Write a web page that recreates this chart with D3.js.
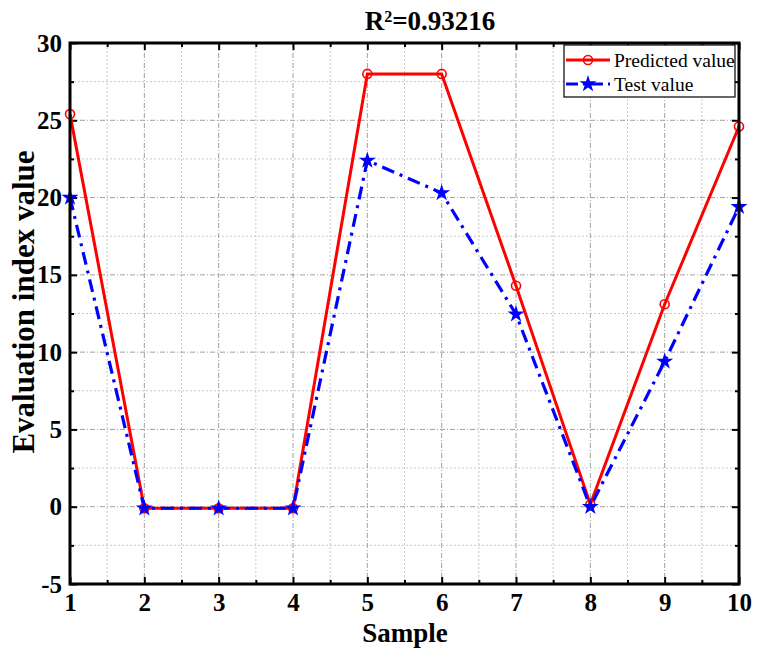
<!DOCTYPE html>
<html><head><meta charset="utf-8">
<script src="https://cdn.jsdelivr.net/npm/d3@7"></script>
<style>body{margin:0;background:#fff}svg{display:block}</style>
</head><body>
<svg id="c" width="757" height="660"></svg>
<script>
const samples = [1,2,3,4,5,6,7,8,9,10];
const predicted = [25.4,-0.1,-0.1,-0.1,28.0,28.0,14.3,0.15,13.1,24.6];
const testVal = [20.0,-0.1,-0.1,-0.1,22.4,20.3,12.45,0.0,9.4,19.4];
const xTicks = [1,2,3,4,5,6,7,8,9,10];
const yTicks = [-5,0,5,10,15,20,25,30];

const svg = d3.select("#c");
const L=70,R=739,T=43,B=584;
const x = d3.scaleLinear().domain([1,10]).range([L,R]);
const y = d3.scaleLinear().domain([-5,30]).range([B,T]);
const font = "'Liberation Serif','Times New Roman',serif";

const minorX = d3.range(1.5,10,1);
const minorY = d3.range(-2.5,30,5);
const g = svg.append("g");
g.selectAll(".mgx").data(minorX).join("line").attr("x1",d=>x(d)).attr("x2",d=>x(d)).attr("y1",T).attr("y2",B)
 .attr("stroke","#c8c8c8").attr("stroke-width",1).attr("stroke-dasharray","2,2");
g.selectAll(".mgy").data(minorY).join("line").attr("y1",d=>y(d)).attr("y2",d=>y(d)).attr("x1",L).attr("x2",R)
 .attr("stroke","#c8c8c8").attr("stroke-width",1).attr("stroke-dasharray","2,2");
g.selectAll(".Mgx").data(xTicks.slice(1,-1)).join("line").attr("x1",d=>x(d)).attr("x2",d=>x(d)).attr("y1",T).attr("y2",B)
 .attr("stroke","#a0a0a0").attr("stroke-width",1).attr("stroke-dasharray","5,2,1,2");
g.selectAll(".Mgy").data(yTicks.slice(1,-1)).join("line").attr("y1",d=>y(d)).attr("y2",d=>y(d)).attr("x1",L).attr("x2",R)
 .attr("stroke","#a0a0a0").attr("stroke-width",1).attr("stroke-dasharray","5,2,1,2");

function styleAxis(sel){
  sel.attr("font-family",null).attr("font-size",null);
  sel.select(".domain").remove();
  sel.selectAll(".tick line").attr("stroke","#000").attr("stroke-width",2);
  sel.selectAll("text").style("font-family",font).style("font-weight","bold").style("font-size","25px").attr("fill","#000");
}
const fmt = d=>String(d);
const xAxis = svg.append("g").attr("transform",`translate(0,${B})`)
  .call(d3.axisBottom(x).tickValues(xTicks).tickFormat(fmt).tickSizeInner(-7).tickPadding(9));
styleAxis(xAxis); xAxis.selectAll("text").attr("dy","0.71em");
const xMin = svg.append("g").attr("transform",`translate(0,${B})`).call(d3.axisBottom(x).tickValues(minorX).tickFormat("").tickSizeInner(-4));
styleAxis(xMin);
const yAxis = svg.append("g").attr("transform",`translate(${L},0)`)
  .call(d3.axisLeft(y).tickValues(yTicks).tickFormat(fmt).tickSizeInner(-7).tickPadding(8));
styleAxis(yAxis);
const yMin = svg.append("g").attr("transform",`translate(${L},0)`).call(d3.axisLeft(y).tickValues(minorY).tickFormat("").tickSizeInner(-4));
styleAxis(yMin);
const xTop = svg.append("g").attr("transform",`translate(0,${T})`).call(d3.axisTop(x).tickValues(xTicks).tickFormat("").tickSizeInner(-7));
styleAxis(xTop);
const xTopMin = svg.append("g").attr("transform",`translate(0,${T})`).call(d3.axisTop(x).tickValues(minorX).tickFormat("").tickSizeInner(-4));
styleAxis(xTopMin);
const yRight = svg.append("g").attr("transform",`translate(${R},0)`).call(d3.axisRight(y).tickValues(yTicks).tickFormat("").tickSizeInner(-7));
styleAxis(yRight);
const yRightMin = svg.append("g").attr("transform",`translate(${R},0)`).call(d3.axisRight(y).tickValues(minorY).tickFormat("").tickSizeInner(-4));
styleAxis(yRightMin);

const line = d3.line().x((d,i)=>x(samples[i])).y(d=>y(d));
svg.append("path").datum(predicted).attr("d",line).attr("fill","none").attr("stroke","#ff0000").attr("stroke-width",3);
svg.append("path").datum(testVal).attr("d",line).attr("fill","none").attr("stroke","#0000ff").attr("stroke-width",3.2)
  .attr("stroke-dasharray","13,6,3,6");
svg.selectAll(".pc").data(predicted).join("circle").attr("cx",(d,i)=>x(samples[i])).attr("cy",d=>y(d)).attr("r",4.5)
  .attr("fill","none").attr("stroke","#ff0000").attr("stroke-width",1.6);
const star = d3.symbol().type(d3.symbolStar).size(90);
svg.selectAll(".ts").data(testVal).join("path").attr("d",star).attr("transform",(d,i)=>`translate(${x(samples[i])},${y(d)})`)
  .attr("fill","#0000ff");

svg.append("rect").attr("x",L).attr("y",T).attr("width",R-L).attr("height",B-T).attr("fill","none").attr("stroke","#000").attr("stroke-width",3);

const lg = svg.append("g");
lg.append("rect").attr("x",564).attr("y",45).attr("width",171).attr("height",52).attr("fill","#fff").attr("stroke","#000").attr("stroke-width",1.2);
lg.append("line").attr("x1",566).attr("x2",610).attr("y1",60).attr("y2",60).attr("stroke","#ff0000").attr("stroke-width",3);
lg.append("circle").attr("cx",588).attr("cy",60).attr("r",4.5).attr("fill","none").attr("stroke","#ff0000").attr("stroke-width",1.6);
lg.append("line").attr("x1",566).attr("x2",610).attr("y1",84).attr("y2",84).attr("stroke","#0000ff").attr("stroke-width",3).attr("stroke-dasharray","12,5,3,5");
lg.append("path").attr("d",star).attr("transform","translate(588,84)").attr("fill","#0000ff");
lg.append("text").attr("x",614).attr("y",66.5).text("Predicted value").style("font-family",font).style("font-size","19.5px");
lg.append("text").attr("x",614).attr("y",90.5).text("Test value").style("font-family",font).style("font-size","19.5px");

svg.append("text").attr("x",430).attr("y",30).attr("text-anchor","middle").style("font-family",font).style("font-weight","bold").style("font-size","27px")
  .html('R<tspan baseline-shift="super" style="font-size:16px">2</tspan>=0.93216');
svg.append("text").attr("x",405).attr("y",642).attr("text-anchor","middle").style("font-family",font).style("font-weight","bold").style("font-size","27px").text("Sample");
svg.append("text").attr("transform",`translate(34,302) rotate(-90)`).attr("text-anchor","middle").style("font-family",font).style("font-weight","bold").style("font-size","31px").text("Evaluation index value");
</script>
</body></html>
